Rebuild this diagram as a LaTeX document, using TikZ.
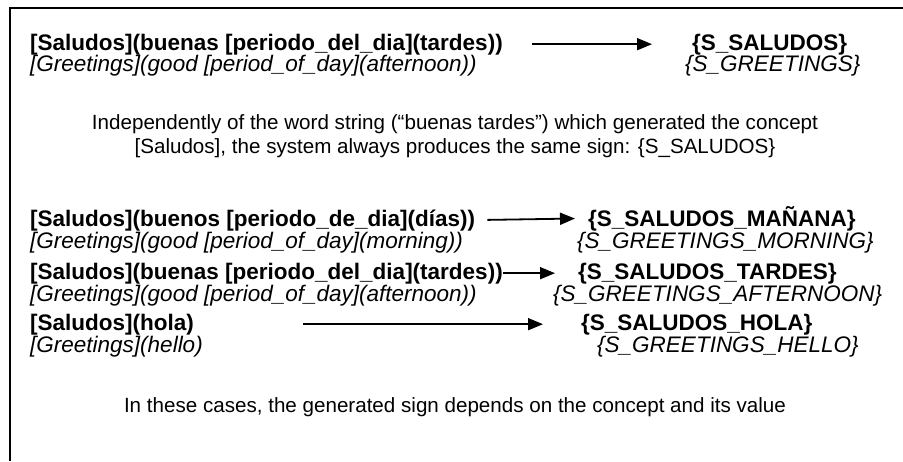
\documentclass[tikz,border=0pt]{standalone}
\usepackage{fontspec}
\setmainfont{Liberation Sans}
\usetikzlibrary{arrows.meta}
\begin{document}
\begin{tikzpicture}[x=1pt,y=-1pt,
  concept/.style={anchor=base west,inner sep=0pt,font=\fontsize{22.5}{27}\selectfont\bfseries},
  gloss/.style={anchor=base west,inner sep=0pt,font=\fontsize{22.5}{26}\selectfont\itshape},
  note/.style={anchor=base,inner sep=0pt,font=\fontsize{20.6}{25}\selectfont},
  conn/.style={line width=1.8pt,-{Triangle[length=15pt,width=12pt]}},
  frame/.style={line width=1.5pt}]
\useasboundingbox (0,0) rectangle (903,461);
\draw[frame] (903,8) -- (10,8) -- (10,461);
% row 1
\node[concept] (c1) at (30,50) {[Saludos](buenas [periodo\_del\_dia](tardes))};
\node[gloss] (g1) at (30,71) {[Greetings](good [period\_of\_day](afternoon))};
\node[concept] (s1) at (692,50) {\{S\_SALUDOS\}};
\node[gloss] (t1) at (685,71) {\{S\_GREETINGS\}};
\draw[conn,shorten <=29pt,shorten >=40pt] (c1.east) -- (s1.west);
% paragraph
\node[note] (p1) at (455,129) {Independently of the word string (“buenas tardes”) which generated the concept};
\node[note] (p2) at (455,153) {[Saludos], the system always produces the same sign: \{S\_SALUDOS\}};
% row 2
\node[concept] (c2) at (30,226) {[Saludos](buenos [periodo\_de\_dia](días))};
\node[gloss] (g2) at (30,248) {[Greetings](good [period\_of\_day](morning))};
\node[concept] (s2) at (588,226) {\{S\_SALUDOS\_MAÑANA\}};
\node[gloss] (t2) at (577,248) {\{S\_GREETINGS\_MORNING\}};
\draw[conn,shorten <=12pt,shorten >=13pt] (c2.east) -- (s2.west);
% row 3
\node[concept] (c3) at (30,279) {[Saludos](buenas [periodo\_del\_dia](tardes))};
\node[gloss] (g3) at (30,301) {[Greetings](good [period\_of\_day](afternoon))};
\node[concept] (s3) at (578,279) {\{S\_SALUDOS\_TARDES\}};
\node[gloss] (t3) at (553,301) {\{S\_GREETINGS\_AFTERNOON\}};
\draw[conn,shorten <=0pt,shorten >=23pt] (c3.east) -- (s3.west);
% row 4
\node[concept] (c4) at (30,330) {[Saludos](hola)};
\node[gloss] (g4) at (30,352) {[Greetings](hello)};
\node[concept] (s4) at (581,330) {\{S\_SALUDOS\_HOLA\}};
\node[gloss] (t4) at (597,352) {\{S\_GREETINGS\_HELLO\}};
\draw[conn,shorten <=109pt,shorten >=38pt] (c4.east) -- (s4.west);
% closing note
\node[note] (p3) at (455,412) {In these cases, the generated sign depends on the concept and its value};
\end{tikzpicture}
\end{document}
